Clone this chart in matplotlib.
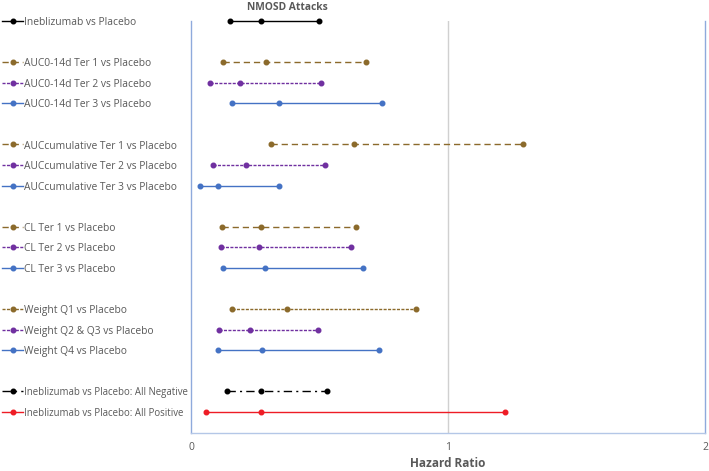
import matplotlib
matplotlib.use("Agg")
from matplotlib import pyplot as plt
from matplotlib.lines import Line2D
import matplotlib.transforms as mtransforms

# data
labels = ["Ineblizumab vs Placebo",
          "AUC0-14d Ter 1 vs Placebo", "AUC0-14d Ter 2 vs Placebo", "AUC0-14d Ter 3 vs Placebo",
          "AUCcumulative Ter 1 vs Placebo", "AUCcumulative Ter 2 vs Placebo", "AUCcumulative Ter 3 vs Placebo",
          "CL Ter 1 vs Placebo", "CL Ter 2 vs Placebo", "CL Ter 3 vs Placebo",
          "Weight Q1 vs Placebo", "Weight Q2 & Q3 vs Placebo", "Weight Q4 vs Placebo",
          "Ineblizumab vs Placebo: All Negative", "Ineblizumab vs Placebo: All Positive"]
rows = [0, 2, 3, 4, 6, 7, 8, 10, 11, 12, 14, 15, 16, 18, 19]
lower = [0.152, 0.125, 0.075, 0.160, 0.312, 0.087, 0.035, 0.121, 0.116, 0.123, 0.161, 0.108, 0.107, 0.142, 0.060]
hr = [0.274, 0.292, 0.192, 0.344, 0.635, 0.213, 0.107, 0.274, 0.266, 0.287, 0.373, 0.229, 0.278, 0.274, 0.271]
upper = [0.499, 0.682, 0.504, 0.745, 1.292, 0.520, 0.344, 0.641, 0.621, 0.668, 0.876, 0.494, 0.732, 0.529, 1.223]

BROWN = "#8B6A2B"
PURPLE = "#7030A0"
BLUE = "#4472C4"
BLACK = "#000000"
RED = "#EE1C25"
long_dash = (4.5, 2.8)
dense_dash = (2.2, 1.0)
solid = None
dashdot = (6, 3, 1.5, 3)
colors = [BLACK, BROWN, PURPLE, BLUE, BROWN, PURPLE, BLUE, BROWN, PURPLE, BLUE,
          BROWN, PURPLE, BLUE, BLACK, RED]
dashes = [solid, long_dash, dense_dash, solid, long_dash, dense_dash, solid,
          long_dash, dense_dash, solid, dense_dash, dense_dash, solid, dashdot, solid]

plt.rcParams['font.family'] = ['Open Sans', 'DejaVu Sans']
TXT = "#595959"

fig = plt.figure(figsize=(7.09, 4.71), dpi=100)
ax = fig.add_axes([191/709, 1 - 432.5/471, (705 - 191)/709, (432.5 - 21)/471])
ax.set_xlim(0, 2)
ax.set_ylim(0, 20)

tr = mtransforms.blended_transform_factory(ax.transAxes, ax.transData)
for lab, r, lo, h, up, c, d in zip(labels, rows, lower, hr, upper, colors, dashes):
    y = 20 - r
    ln, = ax.plot([lo, h, up], [y, y, y], color=c, lw=1.0, marker='o', ms=3.3,
                  clip_on=False, zorder=3)
    if d is not None:
        ln.set_dashes(d)
    # legend entry on the left, aligned with its row
    lx0, lx1 = -0.368, -0.326
    leg = Line2D([lx0, lx1], [y, y], color=c, lw=1.0, transform=tr, clip_on=False)
    if d is not None:
        leg.set_dashes(d)
    ax.add_line(leg)
    ax.add_line(Line2D([(lx0 + lx1) / 2], [y], color=c, marker='o', ms=3.3,
                       transform=tr, clip_on=False))
    fs = 6.9 if "All" in lab else 7.4
    ax.text(lx1 + 0.002, y - 0.08, lab, transform=tr, fontsize=fs, color=TXT,
            va='center', ha='left')

ax.set_xticks([0, 1, 2])
ax.set_xticklabels(["0", "1", "2"])
ax.set_yticks([])
ax.tick_params(axis='x', length=0, pad=7, labelsize=7.5, labelcolor=TXT)
ax.axvline(1, color="#D0D0D0", lw=1.0, zorder=1)
ax.spines['top'].set_visible(False)
ax.spines['left'].set_color("#8FAADC")
ax.spines['right'].set_color("#8FAADC")
ax.spines['bottom'].set_color("#B4C7E7")
for s in ['left', 'right', 'bottom']:
    ax.spines[s].set_linewidth(1.0)

ax.set_xlabel("Hazard Ratio", fontsize=8.5, fontweight='bold', color=TXT, labelpad=3)
fig.text(287/709, 1 - 8/471, "NMOSD Attacks", fontsize=7.4, fontweight='bold',
         color=TXT, ha='center', va='center')

fig.savefig("out.png", dpi=100)
